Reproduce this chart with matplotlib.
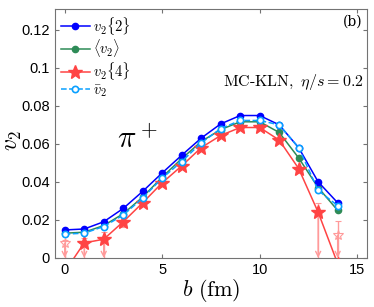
import numpy as np
import matplotlib
matplotlib.use("Agg")
import matplotlib.pyplot as plt

plt.rcParams['mathtext.fontset'] = 'cm'
plt.rcParams['font.family'] = ['Liberation Sans', 'DejaVu Sans']

# impact parameter b (fm)
b = np.arange(0, 15)

# flow values
v2_2 = [0.0147, 0.0152, 0.019, 0.026, 0.035, 0.0447, 0.054, 0.063, 0.0705,
        0.0749, 0.0749, 0.070, 0.058, 0.040, 0.029]
v2_mean = [0.013, 0.0135, 0.017, 0.0232, 0.032, 0.0425, 0.0522, 0.0612, 0.0675,
           0.0716, 0.0716, 0.066, 0.0526, 0.037, 0.025]
v2_4 = [-0.0073, 0.0079, 0.0098, 0.019, 0.029, 0.0395, 0.0484, 0.058, 0.0644,
        0.0686, 0.0686, 0.062, 0.047, 0.024, -0.003]
v2_bar = [0.0125, 0.013, 0.0165, 0.0225, 0.0315, 0.042, 0.0507, 0.0605, 0.068,
          0.0723, 0.0723, 0.0700, 0.058, 0.0355, 0.0275]

# second v2{4} estimate (open stars) with upper errors; some are upper limits
v2_4_alt = [0.0078, 0.0079, 0.0100, 0.019, 0.029, 0.0395, 0.0484, 0.058, 0.0644,
            0.0686, 0.0686, 0.062, 0.046, 0.024, 0.012]
v2_4_err = [0.0018, 0.0025, 0.0038, 0.0025, 0.0012, 0.001, 0.001, 0.001, 0.001,
            0.001, 0.001, 0.001, 0.0015, 0.005, 0.0076]
is_limit = [True, True, True, False, False, False, False, False, False,
            False, False, False, False, True, True]

xticks = [0, 5, 10, 15]
yticks = [0, 0.02, 0.04, 0.06, 0.08, 0.1, 0.12]
ytick_labels = ['0', '0.02', '0.04', '0.06', '0.08', '0.1', '0.12']

c_blue = '#0000ff'
c_green = '#2e8b57'
c_red = '#ff4444'
c_pink = '#ff9a9a'
c_cyan = '#0aa0ff'

fig = plt.figure(figsize=(3.74, 3.07), dpi=100)
ax = fig.add_axes([0.147, 0.160, 0.834, 0.811])

# open-star estimate with error bars (light red)
lo = [y if lim else e for y, e, lim in zip(v2_4_alt, v2_4_err, is_limit)]
ax.errorbar(b, v2_4_alt, yerr=[lo, v2_4_err], fmt='*', ms=7, mfc='none',
            mec=c_pink, mew=0.8, ecolor=c_pink, elinewidth=1.0, capsize=2.5,
            zorder=2, clip_on=True)
for xi, yi, lim in zip(b, v2_4_alt, is_limit):
    if lim:
        ax.annotate('', xy=(xi, 0), xytext=(xi, yi),
                    arrowprops=dict(arrowstyle='->', color=c_pink, lw=1.0,
                                    shrinkA=0, shrinkB=0, mutation_scale=9))

ax.plot(b, v2_2, '-o', color=c_blue, ms=4.5, lw=1.1, label=r'$v_2\{2\}$', zorder=4)
ax.plot(b, v2_mean, '-o', color=c_green, ms=4.5, lw=1.1, label=r'$\langle v_2\rangle$', zorder=3)
ax.plot(b, v2_4, '-*', color=c_red, ms=10, lw=1.1, label=r'$v_2\{4\}$', zorder=3)
ax.plot(b, v2_bar, '--o', color=c_cyan, ms=4.5, mfc='white', mew=1.2, lw=1.1,
        label=r'$\bar{v}_2$', zorder=5)

ax.set_xlim(-0.5, 15.5)
ax.set_ylim(0, 0.131)
ax.set_xticks(xticks)
ax.set_yticks(yticks)
ax.set_yticklabels(ytick_labels)
ax.tick_params(direction='in', top=True, right=True, labelsize=10.5,
               length=3, color='0.45')
for sp in ax.spines.values():
    sp.set_color('0.45')

ax.set_xlabel(r'$b\ \mathrm{(fm)}$', fontsize=16, labelpad=0)
ax.set_ylabel(r'$v_2$', fontsize=17)
ax.yaxis.set_label_coords(-0.1, 0.47)

ax.text(0.985, 0.975, '(b)', transform=ax.transAxes, ha='right', va='top',
        fontsize=10, family='DejaVu Serif')
ax.text(0.99, 0.705, r'$\mathrm{MC\text{-}KLN},\ \eta/s=0.2$', transform=ax.transAxes,
        ha='right', va='center', fontsize=11.5)
ax.text(2.7, 0.062, r'$\pi^+$', fontsize=22, ha='left', va='center')

leg = ax.legend(loc='upper left', fontsize=10.5, frameon=False, handlelength=2.0,
                handletextpad=0.2, labelspacing=0.05, borderaxespad=0.2,
                borderpad=0.2)

fig.savefig('out.png', dpi=100)
